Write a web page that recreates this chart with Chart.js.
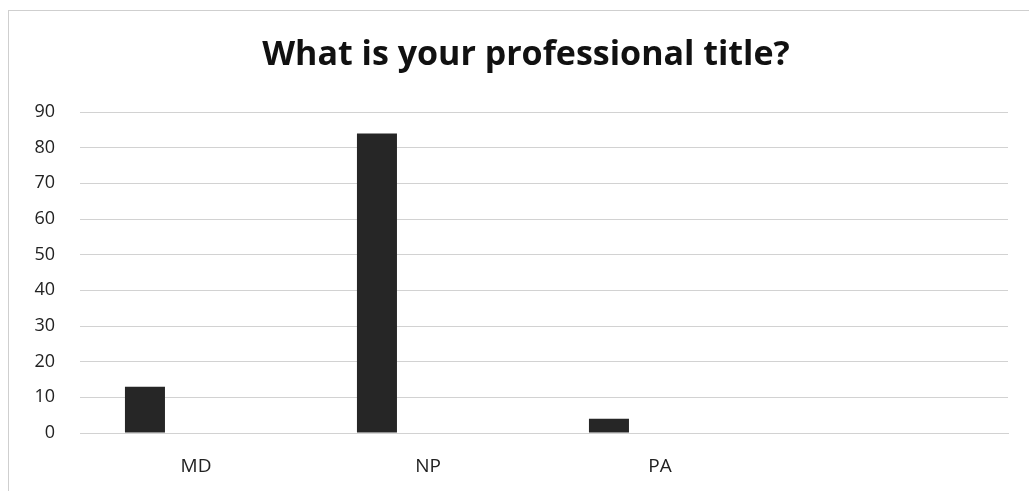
<!DOCTYPE html>
<html>
<head>
<meta charset="utf-8">
<script src="https://cdn.jsdelivr.net/npm/chart.js@4"></script>
<style>
    html, body { margin: 0; padding: 0; background: #fff; }
    #wrap { position: relative; width: 1029px; height: 491px; }
    #frame { position: absolute; left: 8px; top: 10px; right: 0; bottom: 0; border-left: 1px solid #cfcfcf; border-top: 1px solid #cfcfcf; pointer-events: none; }
    canvas { position: absolute; left: 0; top: 0; }
</style>
</head>
<body>
<div id="wrap">
    <canvas id="barChart" width="1029" height="491"></canvas>
    <div id="frame"></div>
</div>
<script>
"use strict";
var titleText = 'What is your professional title?';
var categories = ['MD', 'NP', 'PA', ''];
var responses = [13, 84, 4, null];
var emptySeriesB = [null, null, null, null];
var emptySeriesC = [null, null, null, null];
var yTicks = [0, 10, 20, 30, 40, 50, 60, 70, 80, 90];

var barColor = '#262626';
var gridColor = '#d2d2d2';
var textColor = '#222';
var fontFamily = '"Open Sans", "DejaVu Sans", sans-serif';

function series(data) {
    return { data: data, backgroundColor: barColor, borderWidth: 0, categoryPercentage: 0.66, barPercentage: 0.784 };
}

// the title sits a bit right of the canvas centre in the original
var titleShift = {
    id: 'titleShift',
    afterLayout: function (chart) {
        var t = chart.titleBlock;
        if (t) { t.left += 44; t.width -= 44; }
    }
};

new Chart(document.getElementById('barChart'), {
    type: 'bar',
    data: {
        labels: categories,
        datasets: [series(responses), series(emptySeriesB), series(emptySeriesC)]
    },
    plugins: [titleShift],
    options: {
        responsive: false,
        animation: false,
        layout: { padding: { left: 0, right: 21, top: 0, bottom: 0 } },
        plugins: {
            legend: { display: false },
            tooltip: { enabled: false },
            title: {
                display: true,
                text: titleText,
                color: '#111',
                font: { family: fontFamily, size: 34, weight: 'bold', lineHeight: 1.2 },
                padding: { top: 35, bottom: 36.2 }
            }
        },
        scales: {
            y: {
                min: yTicks[0],
                max: yTicks[yTicks.length - 1],
                afterBuildTicks: function (scale) {
                    scale.ticks = yTicks.map(function (v) { return { value: v }; });
                },
                afterFit: function (scale) { scale.width = 80; },
                border: { display: false },
                grid: { color: gridColor, lineWidth: 1, drawTicks: false },
                ticks: { color: textColor, padding: 25, font: { family: fontFamily, size: 18 } }
            },
            x: {
                afterFit: function (scale) { scale.height = 58; },
                border: { display: true, color: gridColor, width: 1 },
                grid: { display: false, drawTicks: false },
                ticks: { color: textColor, padding: 22, font: { family: fontFamily, size: 19 } }
            }
        }
    }
});
</script>
</body>
</html>
